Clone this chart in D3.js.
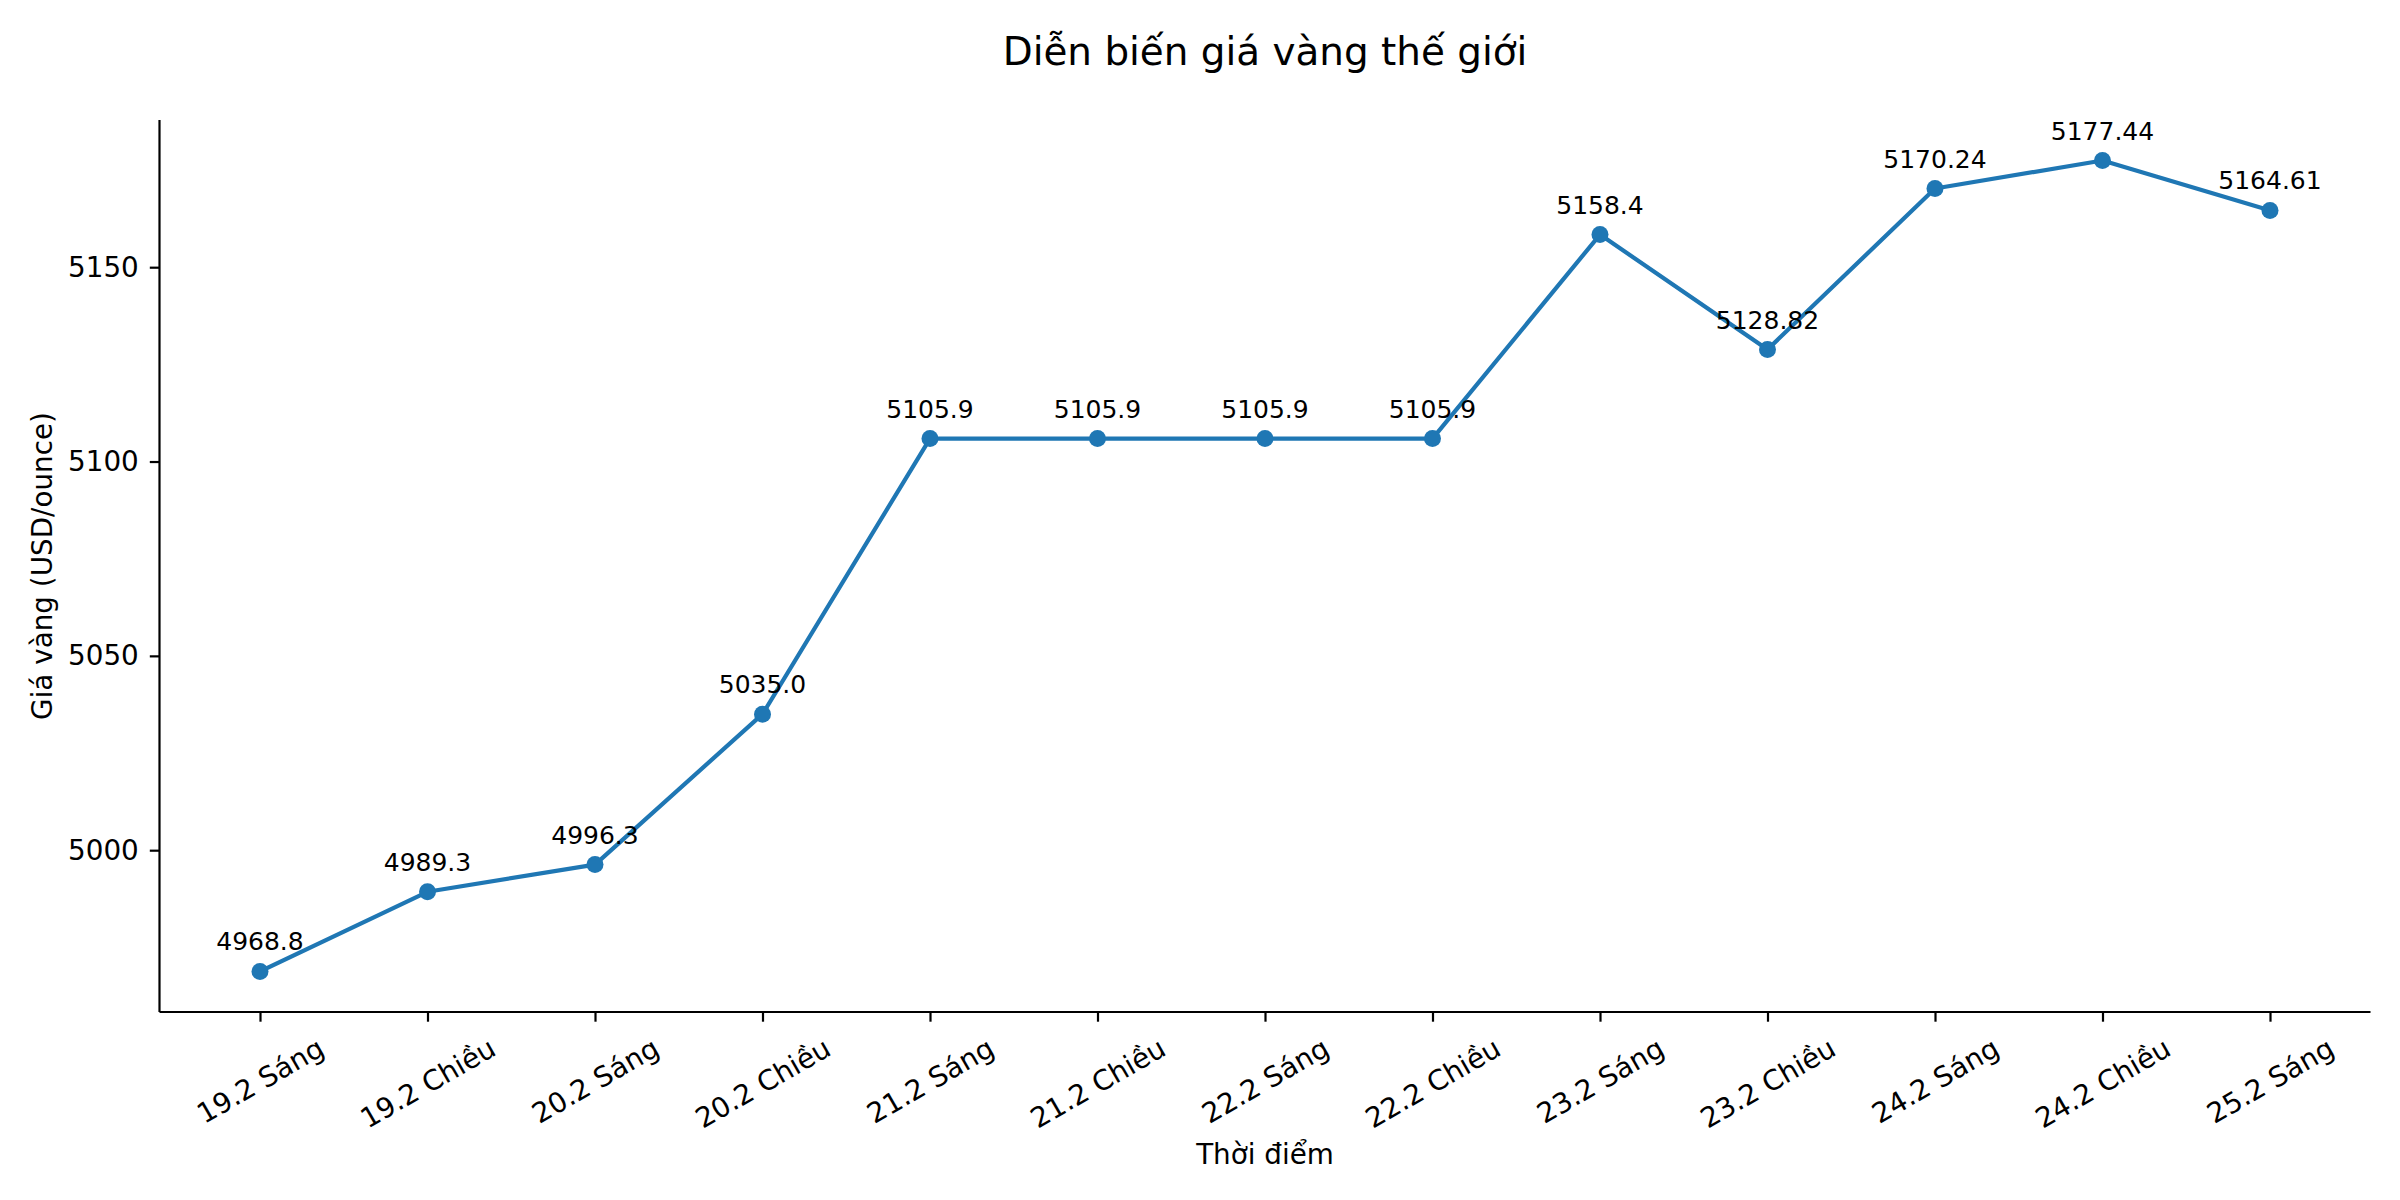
<!DOCTYPE html>
<html lang="vi">
<head>
  <meta charset="UTF-8">
  <title>Diễn biến giá vàng thế giới</title>
  <style>
    body { margin:0; background:#fff; overflow:hidden; }
    #chart { display:block; }
    text { font-family: "DejaVu Sans", sans-serif; fill:#000; }
  </style>
</head>
<body>
  <svg id="chart" width="2400" height="1200"></svg>
  <script src="https://d3js.org/d3.v7.min.js"></script>
  <script>
    // data
    const times = ['19.2 Sáng','19.2 Chiều','20.2 Sáng','20.2 Chiều','21.2 Sáng','21.2 Chiều','22.2 Sáng',
                   '22.2 Chiều','23.2 Sáng','23.2 Chiều','24.2 Sáng','24.2 Chiều','25.2 Sáng'];
    const prices = [4968.8, 4989.3, 4996.3, 5035.0, 5105.9, 5105.9, 5105.9, 5105.9, 5158.4, 5128.82, 5170.24, 5177.44, 5164.61];
    const yTicks = [5000, 5050, 5100, 5150];

    const svg = d3.select('#chart');
    const m = {left:159.5, right:2370.5, top:120, bottom:1012};
    const blue = '#1f77b4';

    // matplotlib style 5% margins
    const n = times.length;
    const xPad = (n - 1) * 0.05;
    const x = d3.scaleLinear().domain([-xPad, n - 1 + xPad]).range([m.left, m.right]);
    const [lo, hi] = d3.extent(prices);
    const yPad = (hi - lo) * 0.05;
    const y = d3.scaleLinear().domain([lo - yPad, hi + yPad]).range([m.bottom, m.top]);

    // title
    svg.append('text')
      .attr('x', (m.left + m.right) / 2).attr('y', 65)
      .attr('text-anchor', 'middle').style('font-size', '38.9px')
      .text('Diễn biến giá vàng thế giới');

    // y axis
    const yAxis = svg.append('g').attr('transform', `translate(${m.left},0)`)
      .call(d3.axisLeft(y).tickValues(yTicks).tickSize(9.7).tickPadding(11).tickFormat(d3.format('d')));
    yAxis.select('.domain').attr('stroke', '#000').attr('stroke-width', 2.2).attr('d', `M0,${m.bottom}V${m.top}`);
    yAxis.selectAll('.tick line').attr('stroke', '#000').attr('stroke-width', 2.2);
    yAxis.selectAll('.tick text').style('font-size', '27.8px').attr('font-family', null);

    // x axis, labels turned 30 degrees and centred under the tick
    const xAxis = svg.append('g').attr('transform', `translate(0,${m.bottom})`)
      .call(d3.axisBottom(x).tickValues(d3.range(n)).tickSize(9.7).tickFormat(i => times[i]));
    xAxis.select('.domain').attr('stroke', '#000').attr('stroke-width', 2.2).attr('d', `M${m.left},0H${m.right}`);
    xAxis.selectAll('.tick line').attr('stroke', '#000').attr('stroke-width', 2.2);
    xAxis.selectAll('.tick text').each(function() {
      const t = d3.select(this)
        .attr('y', null).attr('dy', null).attr('text-anchor', 'start')
        .attr('font-family', null).style('font-size', '27.8px');
      const bb = this.getBBox();
      const rad = 30 * Math.PI / 180;
      const rh = bb.width * Math.sin(rad) + bb.height * Math.cos(rad);
      const cy = 9.7 + 9.7 + rh / 2;
      t.attr('transform', `translate(0,${cy}) rotate(-30) translate(${-bb.x - bb.width / 2},${-bb.y - bb.height / 2})`);
    });

    // axis labels
    svg.append('text')
      .attr('x', (m.left + m.right) / 2).attr('y', 1164)
      .attr('text-anchor', 'middle').style('font-size', '27.8px')
      .text('Thời điểm');
    svg.append('text')
      .attr('transform', `translate(52,${(m.top + m.bottom) / 2}) rotate(-90)`)
      .attr('text-anchor', 'middle').style('font-size', '27.8px')
      .text('Giá vàng (USD/ounce)');

    // line + markers
    const line = d3.line().x((d, i) => x(i)).y(d => y(d));
    svg.append('path').datum(prices)
      .attr('d', line).attr('fill', 'none')
      .attr('stroke', blue).attr('stroke-width', 4.2).attr('stroke-linejoin', 'round').attr('stroke-linecap', 'square');
    svg.selectAll('circle.pt').data(prices).join('circle')
      .attr('class', 'pt')
      .attr('cx', (d, i) => x(i)).attr('cy', d => y(d)).attr('r', 8.5)
      .attr('fill', blue);

    // value labels
    const fmt = v => Math.abs(v * 10 - Math.round(v * 10)) < 1e-9 ? v.toFixed(1) : String(v);
    svg.selectAll('text.val').data(prices).join('text')
      .attr('class', 'val')
      .attr('x', (d, i) => x(i)).attr('y', d => y(d) - 21)
      .attr('text-anchor', 'middle').style('font-size', '25px')
      .text(fmt);
  </script>
</body>
</html>
